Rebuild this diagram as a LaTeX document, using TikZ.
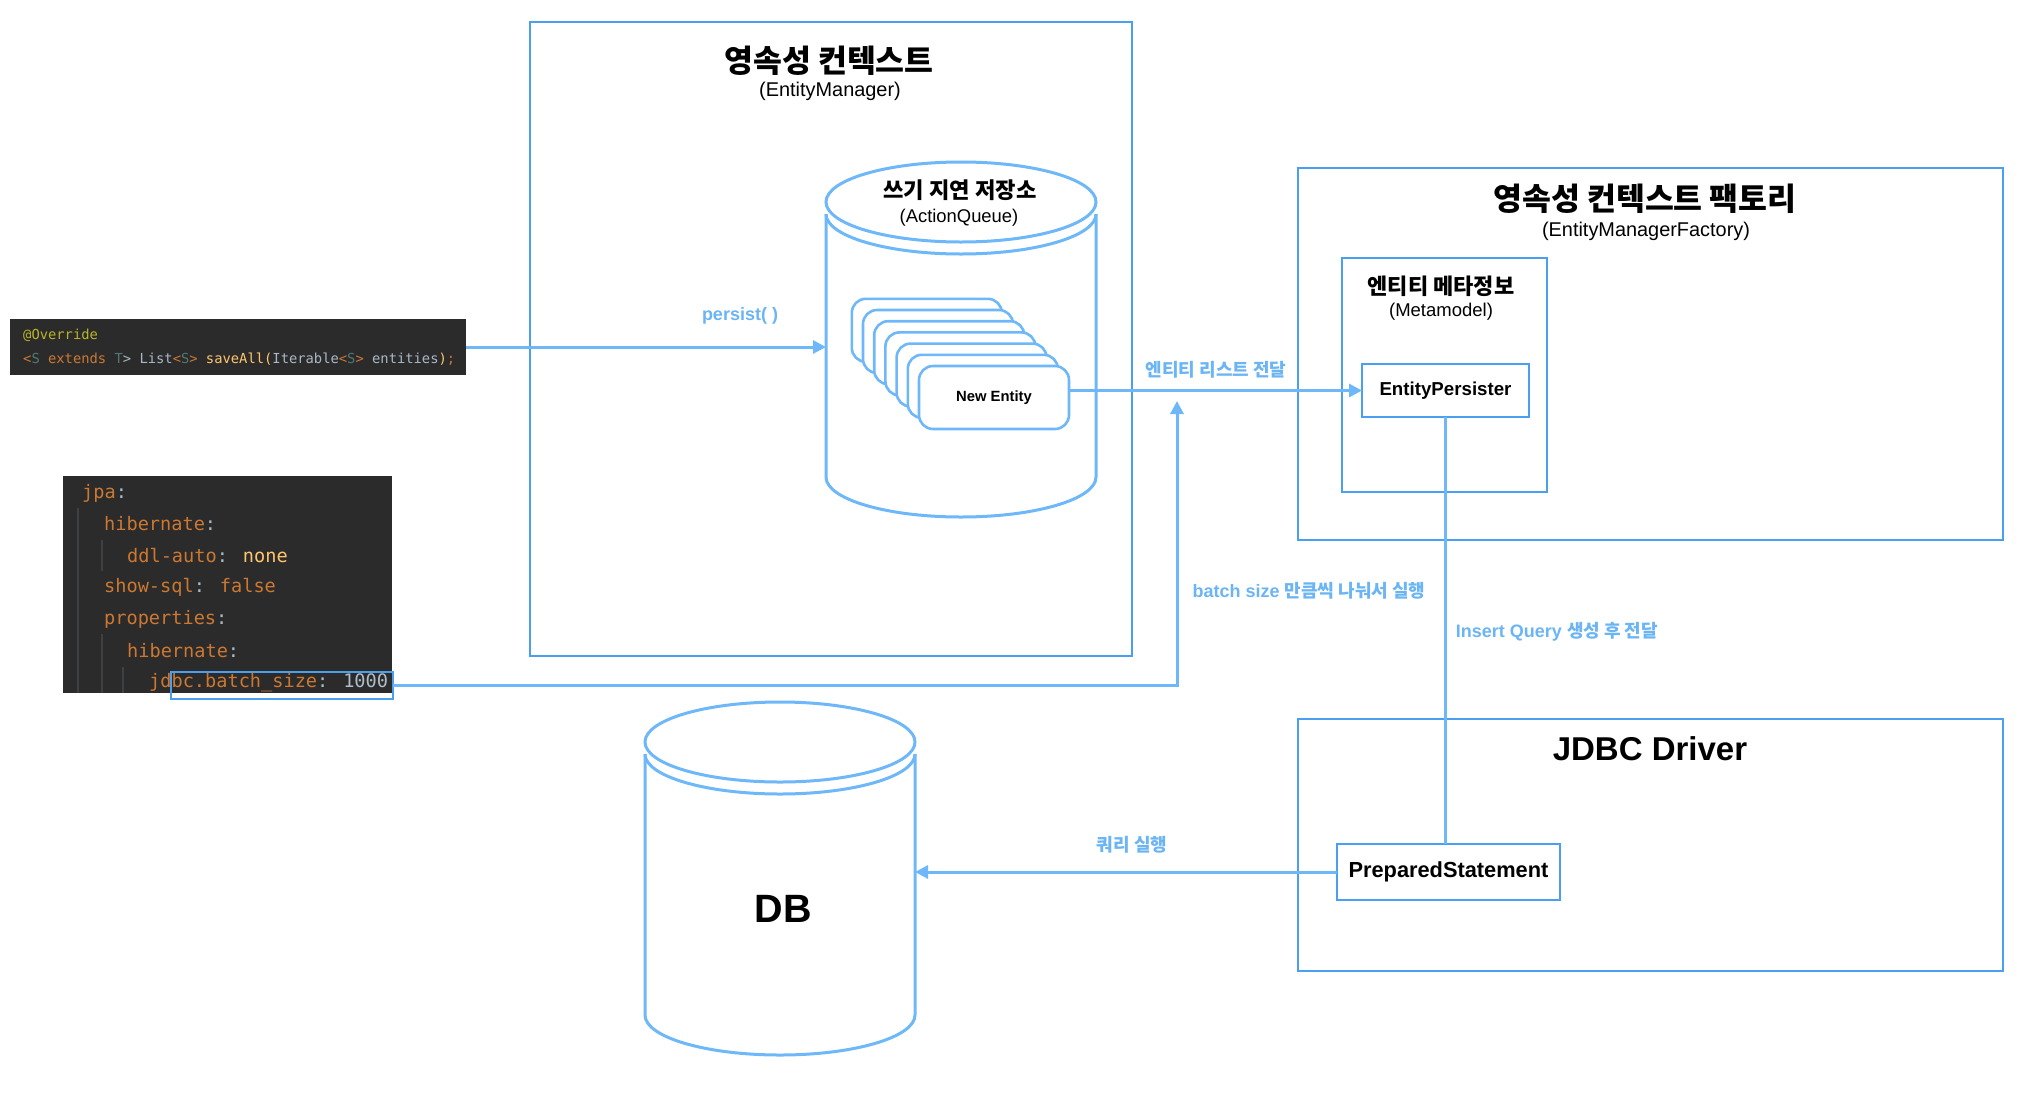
\documentclass[tikz,border=0pt]{standalone}
\usepackage{fontspec}
\setmainfont{Liberation Sans}
\newfontfamily\kr{Noto Sans CJK KR}
\newfontfamily\codefont{DejaVu Sans Mono}
\usetikzlibrary{arrows.meta}
\definecolor{lineblue}{HTML}{6EB8FA}
\definecolor{boxblue}{HTML}{4A9FF0}
\definecolor{lblblue}{HTML}{6BB5F5}
\definecolor{codebg}{HTML}{2B2B2B}
\definecolor{cOrange}{HTML}{CC7832}
\definecolor{cYellow}{HTML}{BBB529}
\definecolor{cTeal}{HTML}{507874}
\definecolor{cGray}{HTML}{A9B7C6}
\definecolor{cFunc}{HTML}{FFC66D}
\definecolor{cNum}{HTML}{B0BCC8}
\definecolor{cGuide}{HTML}{3E4143}
\begin{document}
\begin{tikzpicture}[x=1pt,y=-1pt,
  frame/.style={draw=boxblue,line width=1.3pt,anchor=north west,inner sep=0pt,outer sep=0pt},
  ghost/.style={anchor=north west,inner sep=0pt,outer sep=0pt},
  cyl/.style={draw=lineblue,line width=3pt},
  entitybox/.style={draw=lineblue,line width=2.6pt,fill=white,rounded corners=14pt,anchor=north west,inner sep=0pt,outer sep=0pt,minimum width=150pt,minimum height=63pt},
  conn/.style={draw=lineblue,line width=3pt},
  arr/.style={conn,-{Triangle[length=13pt,width=13pt]}},
  codebox/.style={fill=codebg,anchor=north west,inner sep=0pt,outer sep=0pt},
  ktitle/.style={font=\kr\bfseries\fontsize{31.4}{34}\selectfont,inner sep=0pt},
  subtitle/.style={font=\fontsize{19.9}{22}\selectfont,inner sep=0pt},
  lbl/.style={text=lblblue,inner sep=0pt,font=\bfseries\fontsize{18}{21}\selectfont},
  klbl/.style={lbl,font=\kr\bfseries\fontsize{18}{21}\selectfont},
  code/.style={anchor=west,inner sep=0pt,font=\codefont\fontsize{18.6}{21}\selectfont},
  codesm/.style={anchor=west,inner sep=0pt,font=\codefont\fontsize{13.8}{16}\selectfont}
]
\fill[white] (0,0) rectangle (2024,1106);
\useasboundingbox (0,0) rectangle (2024,1106);

% ---------- containers ----------
\node[frame,minimum width=602pt,minimum height=634pt] (pc) at (530,22) {};
\node[ktitle] (pctitle) at (829,61) {영속성 컨텍스트};
\node[subtitle] (pcsub) at (830,91) {(EntityManager)};

\node[frame,minimum width=705pt,minimum height=372pt] (pcf) at (1298,168) {};
\node[ktitle] (pcftitle) at (1645,199) {영속성 컨텍스트 팩토리};
\node[subtitle] (pcfsub) at (1646,231) {(EntityManagerFactory)};

\node[frame,minimum width=205pt,minimum height=234pt] (meta) at (1342,258) {};
\node[inner sep=0pt,font=\kr\bfseries\fontsize{22}{25}\selectfont] (metatitle) at (1441,286) {엔티티 메타정보};
\node[inner sep=0pt,font=\fontsize{18.5}{21}\selectfont] (metasub) at (1441,312) {(Metamodel)};
\node[frame,minimum width=167pt,minimum height=53pt,font=\bfseries\fontsize{18.7}{21}\selectfont] (ep) at (1362,364) {EntityPersister};

\node[frame,minimum width=705pt,minimum height=252pt] (jdbc) at (1298,719) {};
\node[inner sep=0pt,font=\bfseries\fontsize{33}{37}\selectfont] (jdbctitle) at (1650,749) {JDBC Driver};
\node[frame,minimum width=223pt,minimum height=56pt,font=\bfseries\fontsize{21.8}{25}\selectfont] (ps) at (1337,844) {PreparedStatement};

% ---------- ActionQueue cylinder ----------
\node[ghost,minimum width=270pt,minimum height=355pt] (aq) at (826,162) {};
\draw[cyl] (961,202) ellipse [x radius=135pt,y radius=40pt];
\draw[cyl] (826,214) arc[start angle=180,end angle=360,x radius=135pt,y radius=40pt];
\draw[cyl] (826,214) -- (826,477) arc[start angle=180,end angle=360,x radius=135pt,y radius=40pt] -- (1096,214);
\node[inner sep=0pt,font=\kr\bfseries\fontsize{22.2}{25}\selectfont] (aqtitle) at (960,190) {쓰기 지연 저장소};
\node[inner sep=0pt,font=\fontsize{18.4}{21}\selectfont] (aqsub) at (959,218) {(ActionQueue)};

\foreach \i in {6,5,...,1}{
  \node[entitybox] (e\i) at ({919-11.2*\i},{366-11.2*\i}) {};
}
\node[entitybox,font=\bfseries\fontsize{14.8}{17}\selectfont] (ne) at (919,366) {New Entity};

% ---------- DB cylinder ----------
\node[ghost,minimum width=270pt,minimum height=355pt] (db) at (645,702) {};
\draw[cyl] (780,742) ellipse [x radius=135pt,y radius=40pt];
\draw[cyl] (645,754) arc[start angle=180,end angle=360,x radius=135pt,y radius=40pt];
\draw[cyl] (645,754) -- (645,1015) arc[start angle=180,end angle=360,x radius=135pt,y radius=40pt] -- (915,754);
\node[inner sep=0pt,font=\bfseries\fontsize{39.5}{42}\selectfont] (dbtitle) at (783,909) {DB};

% ---------- code block 1 ----------
\node[codebox,minimum width=456pt,minimum height=56pt] (code1) at (10,319) {};
\node[codesm] (c1a) at (23,335) {\textcolor{cYellow}{@Override}};
\node[codesm] (c1b) at (23,359) {\textcolor{cOrange}{<}\textcolor{cTeal}{S} \textcolor{cOrange}{extends} \textcolor{cTeal}{T}\textcolor{cGray}{>} \textcolor{cGray}{List}\textcolor{cOrange}{<}\textcolor{cTeal}{S}\textcolor{cOrange}{>} \textcolor{cFunc}{saveAll(}\textcolor{cGray}{Iterable}\textcolor{cOrange}{<}\textcolor{cTeal}{S}\textcolor{cOrange}{>} \textcolor{cGray}{entities}\textcolor{cFunc}{)}\textcolor{cOrange}{;}};

% ---------- code block 2 ----------
\node[codebox,minimum width=329pt,minimum height=217pt] (code2) at (63,476) {};
\draw[cGuide,line width=1.2pt] (78,508) -- (78,693);
\draw[cGuide,line width=1.2pt] (102,540) -- (102,571);
\draw[cGuide,line width=1.2pt] (102,634) -- (102,693);
\draw[cGuide,line width=1.2pt] (123,667) -- (123,693);
\node[code] (y1) at (82,493) {\textcolor{cOrange}{jpa}\textcolor{cGray}{:}};
\node[code] (y2) at (104,524) {\textcolor{cOrange}{hibernate}\textcolor{cGray}{:}};
\node[code] (y3) at (127,556) {\textcolor{cOrange}{ddl-auto}\textcolor{cGray}{:} \textcolor{cFunc}{none}};
\node[code] (y4) at (104,587) {\textcolor{cOrange}{show-sql}\textcolor{cGray}{:} \textcolor{cOrange}{false}};
\node[code] (y5) at (104,619) {\textcolor{cOrange}{properties}\textcolor{cGray}{:}};
\node[code] (y6) at (127,651) {\textcolor{cOrange}{hibernate}\textcolor{cGray}{:}};
\node[code] (y7) at (149,683) {\textcolor{cOrange}{jdbc.batch\_size}\textcolor{cGray}{:} \textcolor{cNum}{1000}};
\node[frame,minimum width=222pt,minimum height=27pt] (hl) at (171,672) {};

% ---------- connectors ----------
\draw[arr] (code1.east) -- (code1.east -| aq.west);
\node[lbl] (lpersist) at (740,316) {persist( )};

\draw[arr] (ne.east |- ep.west) -- (ep.west);
\node[klbl] (llist) at (1216,370) {엔티티 리스트 전달};

\coordinate (batchtip) at (1177,401);
\draw[arr] (hl.east) -| (batchtip);
\node[lbl] (lbatch) at (1309,591) {batch size {\kr 만큼씩 나눠서 실행}};

\draw[conn] (ep.south) -- (ep.south |- ps.north);
\node[lbl] (linsert) at (1557,632) {Insert Query {\kr 생성 후 전달}};

\draw[arr] (ps.west) -- (ps.west -| db.east);
\node[klbl] (lquery) at (1132,845) {쿼리 실행};
\end{tikzpicture}
\end{document}
